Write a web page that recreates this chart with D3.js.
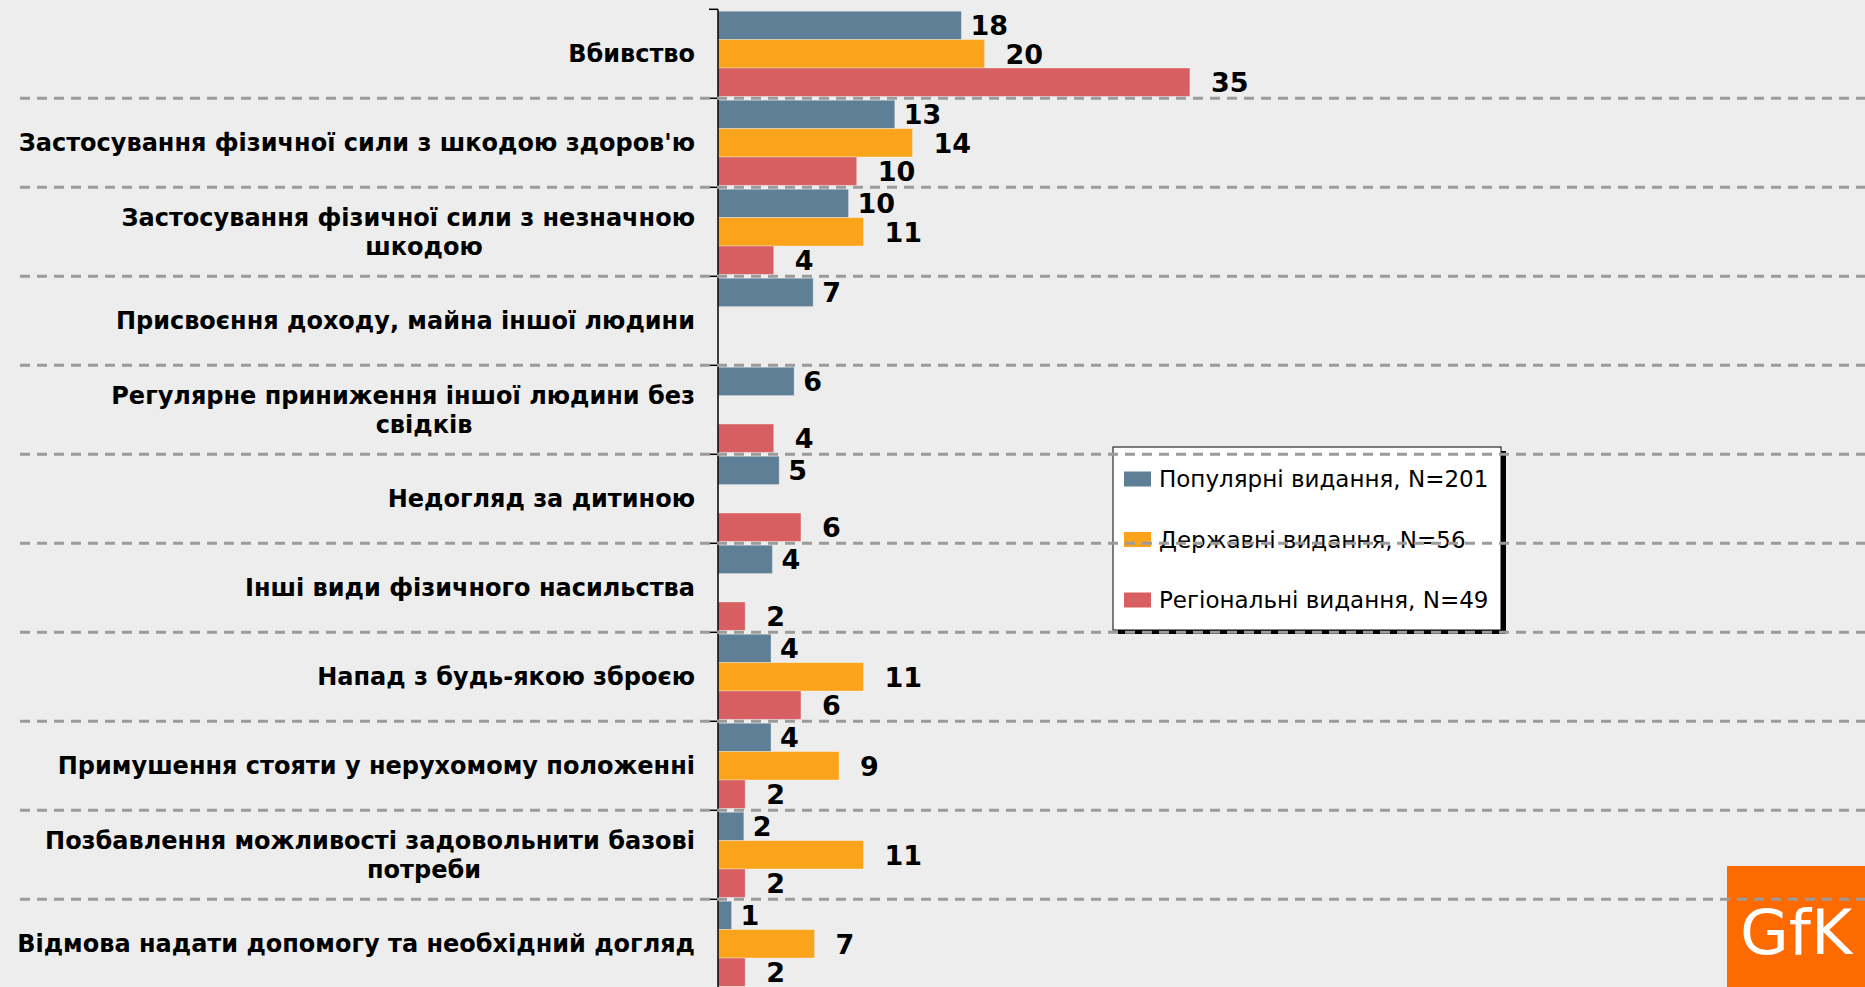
<!DOCTYPE html>
<html>
<head>
<meta charset="utf-8">
<script src="https://cdn.jsdelivr.net/npm/d3@7"></script>
<style>
  html, body { margin: 0; padding: 0; background: #ecedec; overflow: hidden; }
  text { font-family: 'DejaVu Sans', Verdana, sans-serif; }
</style>
</head>
<body>
<div id="container"></div>
<script>
// canvas size
let width = 1865;
let height = 987;

// categories, '|' marks a line break in the label
let categories = [
  'Вбивство',
  "Застосування фізичної сили з шкодою здоров'ю",
  'Застосування фізичної сили з незначною|шкодою',
  'Присвоєння доходу, майна іншої людини',
  'Регулярне приниження іншої людини без|свідків',
  'Недогляд за дитиною',
  'Інші види фізичного насильства',
  'Напад з будь-якою зброєю',
  'Примушення стояти у нерухомому положенні',
  'Позбавлення можливості задовольнити базові|потреби',
  'Відмова надати допомогу та необхідний догляд'
];

let seriesNames = ['Популярні видання, N=201', 'Державні видання, N=56', 'Регіональні видання, N=49'];

// values in %, null = no bar
let popular = [17.9, 13.0, 9.6, 7.0, 5.6, 4.5, 4.0, 3.9, 3.9, 1.9, 1.0];
let stateMedia = [19.6, 14.3, 10.7, null, null, null, null, 10.7, 8.9, 10.7, 7.1];
let regional = [34.7, 10.2, 4.1, null, 4.1, 6.1, 2.0, 6.1, 2.0, 2.0, 2.0];

let colors = ['#5f7f96', '#faa31b', '#d75e61'];
let labelOffset = [9, 21, 21];

let svg = d3.create('svg');

window.draw = () => {
  svg.attr('width', width).attr('height', height).style('display', 'block');

  svg.append('rect')
    .attr('width', width).attr('height', height)
    .attr('fill', '#ecedec');

  let axisX = 718;

  let y = d3.scaleBand()
    .domain(categories)
    .range([9.3, 988.3]);

  let ySub = d3.scaleBand()
    .domain([0, 1, 2])
    .range([0, y.bandwidth()])
    .paddingOuter(0.067);

  let x = d3.scaleLinear()
    .domain([0, 35])
    .range([axisX, axisX + 476]);

  let series = [popular, stateMedia, regional];

  let rows = [];
  categories.forEach((c, i) => {
    series.forEach((s, j) => {
      if (s[i] != null) rows.push({ cat: c, s: j, v: s[i] });
    });
  });

  // bars
  svg.append('g')
    .selectAll('rect')
    .data(rows)
    .enter()
    .append('rect')
    .attr('x', x(0))
    .attr('y', d => y(d.cat) + ySub(d.s))
    .attr('width', d => x(d.v) - x(0))
    .attr('height', ySub.bandwidth())
    .attr('fill', d => colors[d.s])
    .attr('stroke', 'rgba(255,255,255,0.35)')
    .attr('stroke-width', 1);

  // value labels
  svg.append('g')
    .selectAll('text')
    .data(rows)
    .enter()
    .append('text')
    .attr('x', d => x(d.v) + labelOffset[d.s])
    .attr('y', d => y(d.cat) + ySub(d.s) + ySub.bandwidth() / 2)
    .attr('dy', '0.36em')
    .attr('font-size', '27px')
    .attr('font-weight', 'bold')
    .attr('fill', '#000')
    .text(d => Math.round(d.v));

  // category labels
  let lineGap = 28.5;
  let catLabels = svg.append('g')
    .selectAll('g')
    .data(categories)
    .enter()
    .append('g');

  catLabels.each(function (c) {
    let lines = c.split('|');
    let cy = y(c) + y.bandwidth() / 2 - (lines.length - 1) * lineGap / 2;
    lines.forEach((line, k) => {
      d3.select(this).append('text')
        .attr('x', k === 0 ? axisX - 23 : 424)
        .attr('y', cy + k * lineGap)
        .attr('dy', '0.36em')
        .attr('text-anchor', k === 0 ? 'end' : 'middle')
        .attr('font-size', '24px')
        .attr('font-weight', 'bold')
        .attr('fill', '#000')
        .text(line);
    });
  });

  // axis line and ticks
  let bounds = categories.map(c => y(c)).concat([y.range()[1]]);
  svg.append('line')
    .attr('x1', axisX).attr('x2', axisX)
    .attr('y1', y.range()[0]).attr('y2', height)
    .attr('stroke', '#000').attr('stroke-width', 1.5);

  svg.selectAll('.tick-line')
    .data(bounds)
    .enter()
    .append('line')
    .attr('class', 'tick-line')
    .attr('x1', axisX - 9).attr('x2', axisX)
    .attr('y1', d => d).attr('y2', d => d)
    .attr('stroke', '#000').attr('stroke-width', 1.5);

  // legend
  let lg = svg.append('g').attr('transform', 'translate(1113,447)');
  lg.append('rect')
    .attr('x', 5).attr('y', 4)
    .attr('width', 388).attr('height', 183)
    .attr('fill', '#000');
  lg.append('rect')
    .attr('width', 388).attr('height', 183)
    .attr('fill', '#fff')
    .attr('stroke', '#000').attr('stroke-width', 1);

  let items = lg.selectAll('.item')
    .data(seriesNames)
    .enter()
    .append('g')
    .attr('class', 'item')
    .attr('transform', (d, i) => `translate(11, ${32 + i * 60.5})`);
  items.append('rect')
    .attr('width', 27).attr('height', 15)
    .attr('y', -7.5)
    .attr('fill', (d, i) => colors[i]);
  items.append('text')
    .attr('x', 35)
    .attr('dy', '0.36em')
    .attr('font-size', '23px')
    .attr('fill', '#000')
    .text(d => d);

  // GfK logo
  svg.append('rect')
    .attr('x', 1727).attr('y', 866)
    .attr('width', width - 1727).attr('height', height - 866)
    .attr('fill', '#fc6a00');
  svg.append('text')
    .attr('x', 1740).attr('y', 954)
    .attr('font-family', "'Open Sans', sans-serif")
    .attr('font-size', '63px')
    .attr('fill', '#fff')
    .text('GfK');

  // dashed separators on top of everything
  svg.selectAll('.dot-line')
    .data(bounds.slice(1, -1))
    .enter()
    .append('line')
    .attr('class', 'dot-line')
    .attr('x1', 20).attr('x2', width)
    .attr('y1', d => d).attr('y2', d => d)
    .attr('stroke', '#9b9b9b')
    .attr('stroke-width', 3)
    .attr('stroke-dasharray', '10,7');
};
draw();
d3.select('#container').append(() => svg.node());
</script>
</body>
</html>
